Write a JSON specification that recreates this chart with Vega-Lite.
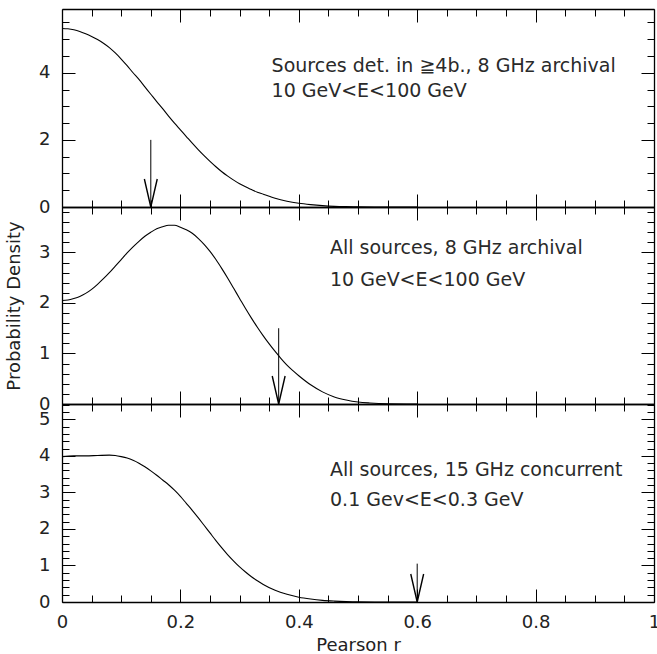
{
  "$schema": "https://vega.github.io/schema/vega-lite/v6.json",
  "padding": {"left": 5, "top": 8, "right": 0, "bottom": 0},
  "background": "white",
  "bounds": "flush",
  "spacing": 0,
  "config": {
    "view": {"stroke": null},
    "axis": {
      "grid": false,
      "labelFont": "DejaVu Sans",
      "labelFontSize": 18,
      "labelColor": "#222",
      "titleFont": "DejaVu Sans",
      "titleFontSize": 18,
      "titleFontWeight": "normal",
      "titleColor": "#222",
      "domainColor": "black",
      "domainWidth": 1.3,
      "tickColor": "black",
      "tickWidth": 1
    }
  },
  "datasets": {
    "curveA": [
      {"r": 0.00, "d": 5.32}, {"r": 0.01, "d": 5.31}, {"r": 0.02, "d": 5.28}, {"r": 0.03, "d": 5.23},
      {"r": 0.04, "d": 5.16}, {"r": 0.05, "d": 5.08}, {"r": 0.06, "d": 4.99}, {"r": 0.07, "d": 4.88},
      {"r": 0.08, "d": 4.75}, {"r": 0.09, "d": 4.59}, {"r": 0.10, "d": 4.41}, {"r": 0.11, "d": 4.21},
      {"r": 0.12, "d": 4.00}, {"r": 0.13, "d": 3.80}, {"r": 0.14, "d": 3.58}, {"r": 0.15, "d": 3.36},
      {"r": 0.16, "d": 3.14}, {"r": 0.17, "d": 2.93}, {"r": 0.18, "d": 2.71}, {"r": 0.19, "d": 2.50},
      {"r": 0.20, "d": 2.30}, {"r": 0.21, "d": 2.10}, {"r": 0.22, "d": 1.90}, {"r": 0.23, "d": 1.71},
      {"r": 0.24, "d": 1.53}, {"r": 0.25, "d": 1.36}, {"r": 0.26, "d": 1.20}, {"r": 0.27, "d": 1.05},
      {"r": 0.28, "d": 0.92}, {"r": 0.29, "d": 0.80}, {"r": 0.30, "d": 0.69}, {"r": 0.31, "d": 0.60},
      {"r": 0.32, "d": 0.52}, {"r": 0.33, "d": 0.44}, {"r": 0.34, "d": 0.38}, {"r": 0.35, "d": 0.32},
      {"r": 0.36, "d": 0.26}, {"r": 0.38, "d": 0.17}, {"r": 0.40, "d": 0.11}, {"r": 0.42, "d": 0.07},
      {"r": 0.44, "d": 0.04}, {"r": 0.46, "d": 0.02}, {"r": 0.48, "d": 0.01}, {"r": 0.50, "d": 0.005},
      {"r": 0.55, "d": 0.001}, {"r": 0.60, "d": 0}
    ],
    "curveB": [
      {"r": 0.00, "d": 2.05}, {"r": 0.01, "d": 2.06}, {"r": 0.02, "d": 2.09}, {"r": 0.03, "d": 2.13},
      {"r": 0.04, "d": 2.19}, {"r": 0.05, "d": 2.27}, {"r": 0.06, "d": 2.37}, {"r": 0.07, "d": 2.48},
      {"r": 0.08, "d": 2.60}, {"r": 0.09, "d": 2.73}, {"r": 0.10, "d": 2.86}, {"r": 0.11, "d": 2.99},
      {"r": 0.12, "d": 3.11}, {"r": 0.13, "d": 3.22}, {"r": 0.14, "d": 3.32}, {"r": 0.15, "d": 3.40},
      {"r": 0.16, "d": 3.47}, {"r": 0.17, "d": 3.51}, {"r": 0.18, "d": 3.54}, {"r": 0.19, "d": 3.54},
      {"r": 0.20, "d": 3.50}, {"r": 0.21, "d": 3.45}, {"r": 0.22, "d": 3.38}, {"r": 0.23, "d": 3.28},
      {"r": 0.24, "d": 3.16}, {"r": 0.25, "d": 3.02}, {"r": 0.26, "d": 2.86}, {"r": 0.27, "d": 2.68},
      {"r": 0.28, "d": 2.49}, {"r": 0.29, "d": 2.29}, {"r": 0.30, "d": 2.09}, {"r": 0.31, "d": 1.89},
      {"r": 0.32, "d": 1.70}, {"r": 0.33, "d": 1.52}, {"r": 0.34, "d": 1.35}, {"r": 0.35, "d": 1.19},
      {"r": 0.36, "d": 1.04}, {"r": 0.37, "d": 0.90}, {"r": 0.38, "d": 0.77}, {"r": 0.39, "d": 0.66},
      {"r": 0.40, "d": 0.56}, {"r": 0.42, "d": 0.38}, {"r": 0.44, "d": 0.24}, {"r": 0.46, "d": 0.14},
      {"r": 0.48, "d": 0.08}, {"r": 0.50, "d": 0.04}, {"r": 0.52, "d": 0.02}, {"r": 0.55, "d": 0.005},
      {"r": 0.60, "d": 0}
    ],
    "curveC": [
      {"r": 0.00, "d": 3.98}, {"r": 0.02, "d": 4.00}, {"r": 0.04, "d": 4.00}, {"r": 0.06, "d": 4.01},
      {"r": 0.08, "d": 4.02}, {"r": 0.09, "d": 4.01}, {"r": 0.10, "d": 3.98}, {"r": 0.11, "d": 3.94},
      {"r": 0.12, "d": 3.88}, {"r": 0.13, "d": 3.80}, {"r": 0.14, "d": 3.70}, {"r": 0.15, "d": 3.59},
      {"r": 0.16, "d": 3.47}, {"r": 0.17, "d": 3.34}, {"r": 0.18, "d": 3.21}, {"r": 0.19, "d": 3.06},
      {"r": 0.20, "d": 2.89}, {"r": 0.21, "d": 2.70}, {"r": 0.22, "d": 2.51}, {"r": 0.23, "d": 2.31},
      {"r": 0.24, "d": 2.10}, {"r": 0.25, "d": 1.89}, {"r": 0.26, "d": 1.68}, {"r": 0.27, "d": 1.48},
      {"r": 0.28, "d": 1.29}, {"r": 0.29, "d": 1.12}, {"r": 0.30, "d": 0.96}, {"r": 0.31, "d": 0.82},
      {"r": 0.32, "d": 0.69}, {"r": 0.33, "d": 0.58}, {"r": 0.34, "d": 0.48}, {"r": 0.36, "d": 0.32},
      {"r": 0.38, "d": 0.21}, {"r": 0.40, "d": 0.13}, {"r": 0.42, "d": 0.08}, {"r": 0.44, "d": 0.045},
      {"r": 0.46, "d": 0.025}, {"r": 0.48, "d": 0.012}, {"r": 0.50, "d": 0.005}, {"r": 0.55, "d": 0.001},
      {"r": 0.60, "d": 0}
    ],
    "arrowA": [{"r": 0.15, "d": 2.0, "d0": 0}],
    "arrowB": [{"r": 0.366, "d": 1.5, "d0": 0}],
    "arrowC": [{"r": 0.6, "d": 1.05, "d0": 0}],
    "textA": [
      {"r": 0.354, "d": 4.02, "t": "Sources det. in ≧4b., 8 GHz archival"},
      {"r": 0.354, "d": 3.28, "t": "10 GeV<E<100 GeV"}
    ],
    "textB": [
      {"r": 0.4527, "d": 2.976, "t": "All sources, 8 GHz archival"},
      {"r": 0.4527, "d": 2.336, "t": "10 GeV<E<100 GeV"}
    ],
    "textC": [
      {"r": 0.4527, "d": 3.45, "t": "All sources, 15 GHz concurrent"},
      {"r": 0.4527, "d": 2.63, "t": "0.1 Gev<E<0.3 GeV"}
    ]
  },
  "vconcat": [
    {
      "width": 592,
      "height": 198,
      "resolve": {"axis": {"x": "independent", "y": "independent"}},
      "layer": [
        {
          "data": {"name": "curveA"},
          "mark": {"type": "line", "color": "black", "strokeWidth": 1.1, "interpolate": "monotone"},
          "encoding": {
            "x": {"field": "r", "type": "quantitative", "scale": {"domain": [0, 1], "nice": false},
              "axis": {"orient": "bottom", "title": null, "labels": false,
                "values": [0, 0.05, 0.1, 0.15, 0.2, 0.25, 0.3, 0.35, 0.4, 0.45, 0.5, 0.55, 0.6, 0.65, 0.7, 0.75, 0.8, 0.85, 0.9, 0.95, 1],
                "tickSize": {"condition": {"test": "abs(datum.value*5-round(datum.value*5))<0.001", "value": -13}, "value": -7}}},
            "y": {"field": "d", "type": "quantitative", "scale": {"domain": [0, 5.9], "nice": false},
              "axis": {"orient": "left", "title": null, "format": "~g",
                "values": [0, 0.5, 1, 1.5, 2, 2.5, 3, 3.5, 4, 4.5, 5, 5.5],
                "labelExpr": "abs(datum.value/2-round(datum.value/2))<0.001 ? datum.label : ''",
                "labelPadding": 25, "labelOverlap": false, "labelFlush": false, "labelBound": false,
                "tickSize": {"condition": {"test": "abs(datum.value/2-round(datum.value/2))<0.001", "value": -13}, "value": -7}}}
          }
        },
        {
          "data": {"name": "arrowA"},
          "mark": {"type": "rule", "color": "black", "strokeWidth": 1},
          "encoding": {
            "x": {"field": "r", "type": "quantitative",
              "axis": {"orient": "top", "title": null, "labels": false,
                "values": [0, 0.05, 0.1, 0.15, 0.2, 0.25, 0.3, 0.35, 0.4, 0.45, 0.5, 0.55, 0.6, 0.65, 0.7, 0.75, 0.8, 0.85, 0.9, 0.95, 1],
                "tickSize": {"condition": {"test": "abs(datum.value*5-round(datum.value*5))<0.001", "value": -13}, "value": -7}}},
            "y": {"field": "d", "type": "quantitative",
              "axis": {"orient": "right", "title": null, "labels": false,
                "values": [0, 0.5, 1, 1.5, 2, 2.5, 3, 3.5, 4, 4.5, 5, 5.5],
                "tickSize": {"condition": {"test": "abs(datum.value/2-round(datum.value/2))<0.001", "value": -13}, "value": -7}}},
            "y2": {"field": "d0"}
          }
        },
        {
          "data": {"name": "arrowA"},
          "mark": {"type": "point", "shape": "M-0.23,-1L0,0L0.23,-1", "filled": false, "size": 3136, "color": "black", "strokeWidth": 1.4, "opacity": 1},
          "encoding": {
            "x": {"field": "r", "type": "quantitative", "axis": null},
            "y": {"field": "d0", "type": "quantitative", "axis": null}
          }
        },
        {
          "data": {"name": "textA"},
          "mark": {"type": "text", "align": "left", "baseline": "alphabetic", "font": "DejaVu Sans", "fontSize": 19, "color": "#2a2a2a"},
          "encoding": {
            "x": {"field": "r", "type": "quantitative", "axis": null},
            "y": {"field": "d", "type": "quantitative", "axis": null},
            "text": {"field": "t"}
          }
        }
      ]
    },
    {
      "width": 592,
      "height": 197,
      "resolve": {"axis": {"x": "independent", "y": "independent"}},
      "layer": [
        {
          "data": {"name": "curveB"},
          "mark": {"type": "line", "color": "black", "strokeWidth": 1.1, "interpolate": "monotone"},
          "encoding": {
            "x": {"field": "r", "type": "quantitative", "scale": {"domain": [0, 1], "nice": false},
              "axis": {"orient": "bottom", "title": null, "labels": false,
                "values": [0, 0.05, 0.1, 0.15, 0.2, 0.25, 0.3, 0.35, 0.4, 0.45, 0.5, 0.55, 0.6, 0.65, 0.7, 0.75, 0.8, 0.85, 0.9, 0.95, 1],
                "tickSize": {"condition": {"test": "abs(datum.value*5-round(datum.value*5))<0.001", "value": -13}, "value": -7}}},
            "y": {"field": "d", "type": "quantitative", "scale": {"domain": [0, 3.9], "nice": false},
              "axis": {"orient": "left", "title": "Probability Density", "titlePadding": 15, "format": "~g",
                "values": [0, 0.2, 0.4, 0.6, 0.8, 1, 1.2, 1.4, 1.6, 1.8, 2, 2.2, 2.4, 2.6, 2.8, 3, 3.2, 3.4, 3.6, 3.8],
                "labelExpr": "abs(datum.value-round(datum.value))<0.001 ? datum.label : ''",
                "labelPadding": 25, "labelOverlap": false, "labelFlush": false, "labelBound": false,
                "tickSize": {"condition": {"test": "abs(datum.value-round(datum.value))<0.001", "value": -13}, "value": -7}}}
          }
        },
        {
          "data": {"name": "arrowB"},
          "mark": {"type": "rule", "color": "black", "strokeWidth": 1},
          "encoding": {
            "x": {"field": "r", "type": "quantitative",
              "axis": {"orient": "top", "title": null, "labels": false,
                "values": [0, 0.05, 0.1, 0.15, 0.2, 0.25, 0.3, 0.35, 0.4, 0.45, 0.5, 0.55, 0.6, 0.65, 0.7, 0.75, 0.8, 0.85, 0.9, 0.95, 1],
                "tickSize": {"condition": {"test": "abs(datum.value*5-round(datum.value*5))<0.001", "value": -13}, "value": -7}}},
            "y": {"field": "d", "type": "quantitative",
              "axis": {"orient": "right", "title": null, "labels": false,
                "values": [0, 0.2, 0.4, 0.6, 0.8, 1, 1.2, 1.4, 1.6, 1.8, 2, 2.2, 2.4, 2.6, 2.8, 3, 3.2, 3.4, 3.6, 3.8],
                "tickSize": {"condition": {"test": "abs(datum.value-round(datum.value))<0.001", "value": -13}, "value": -7}}},
            "y2": {"field": "d0"}
          }
        },
        {
          "data": {"name": "arrowB"},
          "mark": {"type": "point", "shape": "M-0.23,-1L0,0L0.23,-1", "filled": false, "size": 3136, "color": "black", "strokeWidth": 1.4, "opacity": 1},
          "encoding": {
            "x": {"field": "r", "type": "quantitative", "axis": null},
            "y": {"field": "d0", "type": "quantitative", "axis": null}
          }
        },
        {
          "data": {"name": "textB"},
          "mark": {"type": "text", "align": "left", "baseline": "alphabetic", "font": "DejaVu Sans", "fontSize": 19, "color": "#2a2a2a"},
          "encoding": {
            "x": {"field": "r", "type": "quantitative", "axis": null},
            "y": {"field": "d", "type": "quantitative", "axis": null},
            "text": {"field": "t"}
          }
        }
      ]
    },
    {
      "width": 592,
      "height": 198,
      "resolve": {"axis": {"x": "independent", "y": "independent"}},
      "layer": [
        {
          "data": {"name": "curveC"},
          "mark": {"type": "line", "color": "black", "strokeWidth": 1.1, "interpolate": "monotone"},
          "encoding": {
            "x": {"field": "r", "type": "quantitative", "scale": {"domain": [0, 1], "nice": false},
              "axis": {"orient": "bottom", "title": "Pearson r", "titlePadding": -1, "format": "~g",
                "values": [0, 0.05, 0.1, 0.15, 0.2, 0.25, 0.3, 0.35, 0.4, 0.45, 0.5, 0.55, 0.6, 0.65, 0.7, 0.75, 0.8, 0.85, 0.9, 0.95, 1],
                "labelExpr": "abs(datum.value*5-round(datum.value*5))<0.001 ? datum.label : ''",
                "labelPadding": 24, "labelOverlap": false, "labelFlush": false, "labelBound": false,
                "tickSize": {"condition": {"test": "abs(datum.value*5-round(datum.value*5))<0.001", "value": -13}, "value": -7}}},
            "y": {"field": "d", "type": "quantitative", "scale": {"domain": [0, 5.42], "nice": false},
              "axis": {"orient": "left", "title": null, "format": "~g",
                "values": [0, 0.2, 0.4, 0.6, 0.8, 1, 1.2, 1.4, 1.6, 1.8, 2, 2.2, 2.4, 2.6, 2.8, 3, 3.2, 3.4, 3.6, 3.8, 4, 4.2, 4.4, 4.6, 4.8, 5, 5.2, 5.4],
                "labelExpr": "abs(datum.value-round(datum.value))<0.001 ? datum.label : ''",
                "labelPadding": 25, "labelOverlap": false, "labelFlush": false, "labelBound": false,
                "tickSize": {"condition": {"test": "abs(datum.value-round(datum.value))<0.001", "value": -13}, "value": -7}}}
          }
        },
        {
          "data": {"name": "arrowC"},
          "mark": {"type": "rule", "color": "black", "strokeWidth": 1},
          "encoding": {
            "x": {"field": "r", "type": "quantitative",
              "axis": {"orient": "top", "title": null, "labels": false,
                "values": [0, 0.05, 0.1, 0.15, 0.2, 0.25, 0.3, 0.35, 0.4, 0.45, 0.5, 0.55, 0.6, 0.65, 0.7, 0.75, 0.8, 0.85, 0.9, 0.95, 1],
                "tickSize": {"condition": {"test": "abs(datum.value*5-round(datum.value*5))<0.001", "value": -13}, "value": -7}}},
            "y": {"field": "d", "type": "quantitative",
              "axis": {"orient": "right", "title": null, "labels": false,
                "values": [0, 0.2, 0.4, 0.6, 0.8, 1, 1.2, 1.4, 1.6, 1.8, 2, 2.2, 2.4, 2.6, 2.8, 3, 3.2, 3.4, 3.6, 3.8, 4, 4.2, 4.4, 4.6, 4.8, 5, 5.2, 5.4],
                "tickSize": {"condition": {"test": "abs(datum.value-round(datum.value))<0.001", "value": -13}, "value": -7}}},
            "y2": {"field": "d0"}
          }
        },
        {
          "data": {"name": "arrowC"},
          "mark": {"type": "point", "shape": "M-0.23,-1L0,0L0.23,-1", "filled": false, "size": 3136, "color": "black", "strokeWidth": 1.4, "opacity": 1},
          "encoding": {
            "x": {"field": "r", "type": "quantitative", "axis": null},
            "y": {"field": "d0", "type": "quantitative", "axis": null}
          }
        },
        {
          "data": {"name": "textC"},
          "mark": {"type": "text", "align": "left", "baseline": "alphabetic", "font": "DejaVu Sans", "fontSize": 19, "color": "#2a2a2a"},
          "encoding": {
            "x": {"field": "r", "type": "quantitative", "axis": null},
            "y": {"field": "d", "type": "quantitative", "axis": null},
            "text": {"field": "t"}
          }
        }
      ]
    }
  ]
}
